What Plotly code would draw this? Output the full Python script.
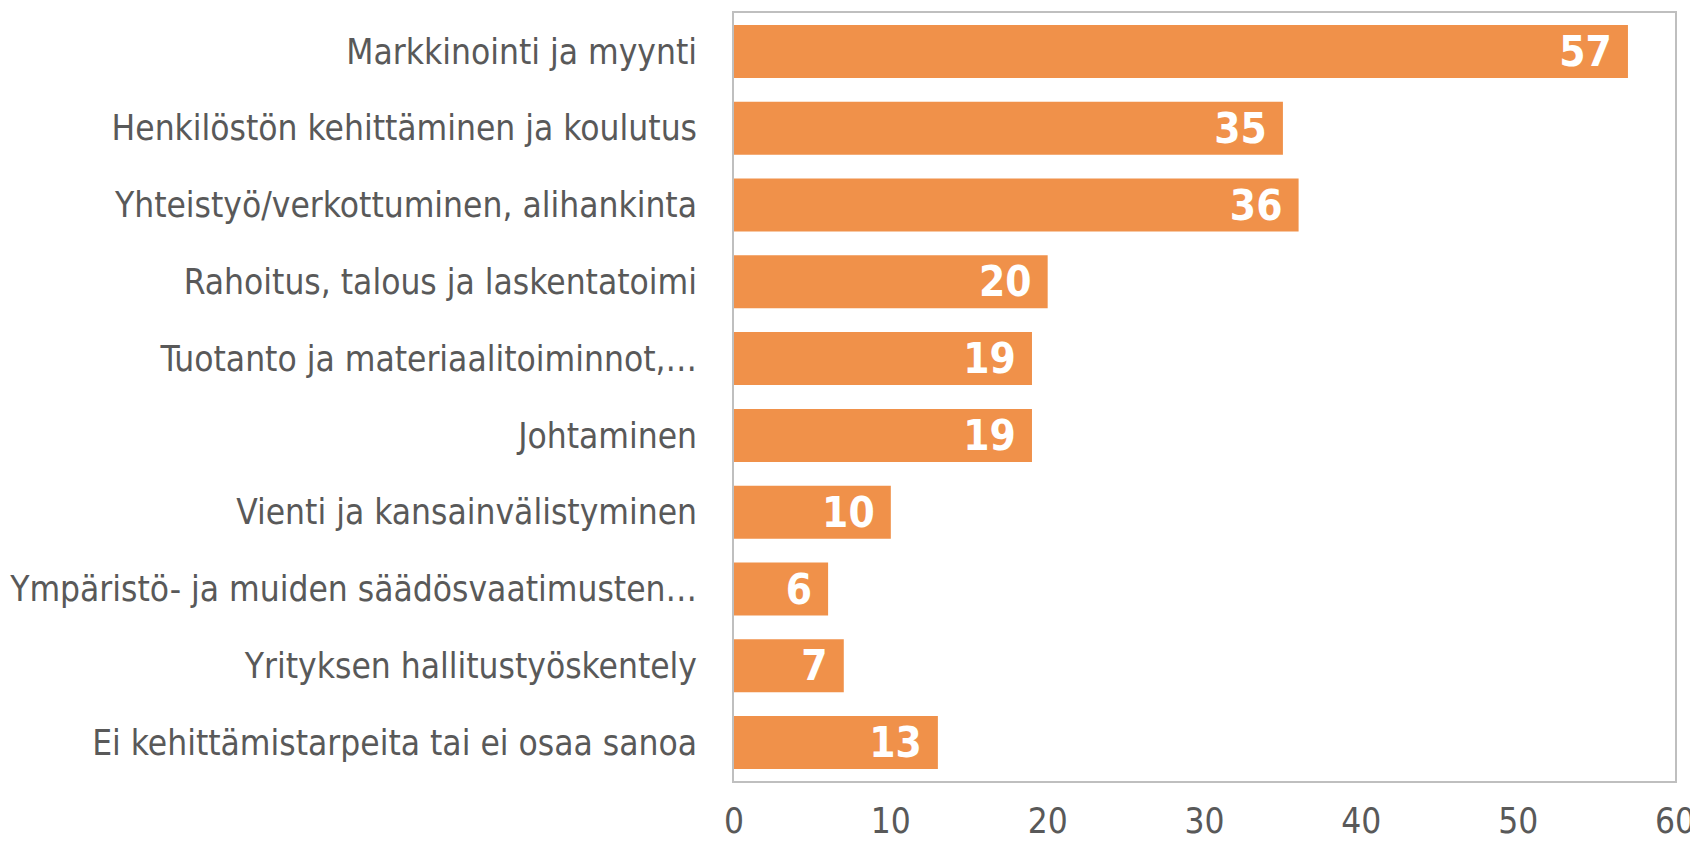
import plotly.graph_objects as go

# Kehittämistarpeet (lukumäärä)
categories = [
    "Markkinointi ja myynti",
    "Henkilöstön kehittäminen ja koulutus",
    "Yhteistyö/verkottuminen, alihankinta",
    "Rahoitus, talous ja laskentatoimi",
    "Tuotanto ja materiaalitoiminnot,…",
    "Johtaminen",
    "Vienti ja kansainvälistyminen",
    "Ympäristö- ja muiden säädösvaatimusten…",
    "Yrityksen hallitustyöskentely",
    "Ei kehittämistarpeita tai ei osaa sanoa",
]
counts = [57, 35, 36, 20, 19, 19, 10, 6, 7, 13]
x_ticks = [0, 10, 20, 30, 40, 50, 60]

BAR = "#F0914A"
TEXT = "#595959"
BORDER = "#BFBFBF"
FONT = "DejaVu Sans Condensed, Liberation Sans Narrow, sans-serif"

fig = go.Figure(go.Bar(
    y=categories,
    x=counts,
    orientation="h",
    marker=dict(color=BAR, line=dict(width=0)),
    text=[f"{v}\u00a0" for v in counts],
    textposition="inside",
    insidetextanchor="end",
    textangle=0,
    textfont=dict(family=FONT, size=42, color="white", weight="bold"),
    cliponaxis=False,
))

fig.update_layout(
    width=1698,
    height=843,
    margin=dict(l=726, r=31, t=5, b=70),
    paper_bgcolor="white",
    plot_bgcolor="white",
    font=dict(family=FONT, color=TEXT),
    bargap=0.31,
    showlegend=False,
    uniformtext=dict(minsize=42, mode="show"),
)
fig.update_xaxes(
    range=[0, 60],
    tickvals=x_ticks,
    showgrid=False,
    zeroline=False,
    showline=True,
    linecolor=BORDER,
    linewidth=2,
    mirror=True,
    ticks="",
    automargin=False,
    ticklabelstandoff=8,
    tickfont=dict(size=35, color=TEXT),
)
fig.update_yaxes(
    autorange="reversed",
    showgrid=False,
    showline=True,
    linecolor=BORDER,
    linewidth=2,
    mirror=True,
    ticks="",
    automargin=False,
    ticklabelstandoff=28,
    tickfont=dict(size=35, color=TEXT),
)

fig.write_html("out.html")
